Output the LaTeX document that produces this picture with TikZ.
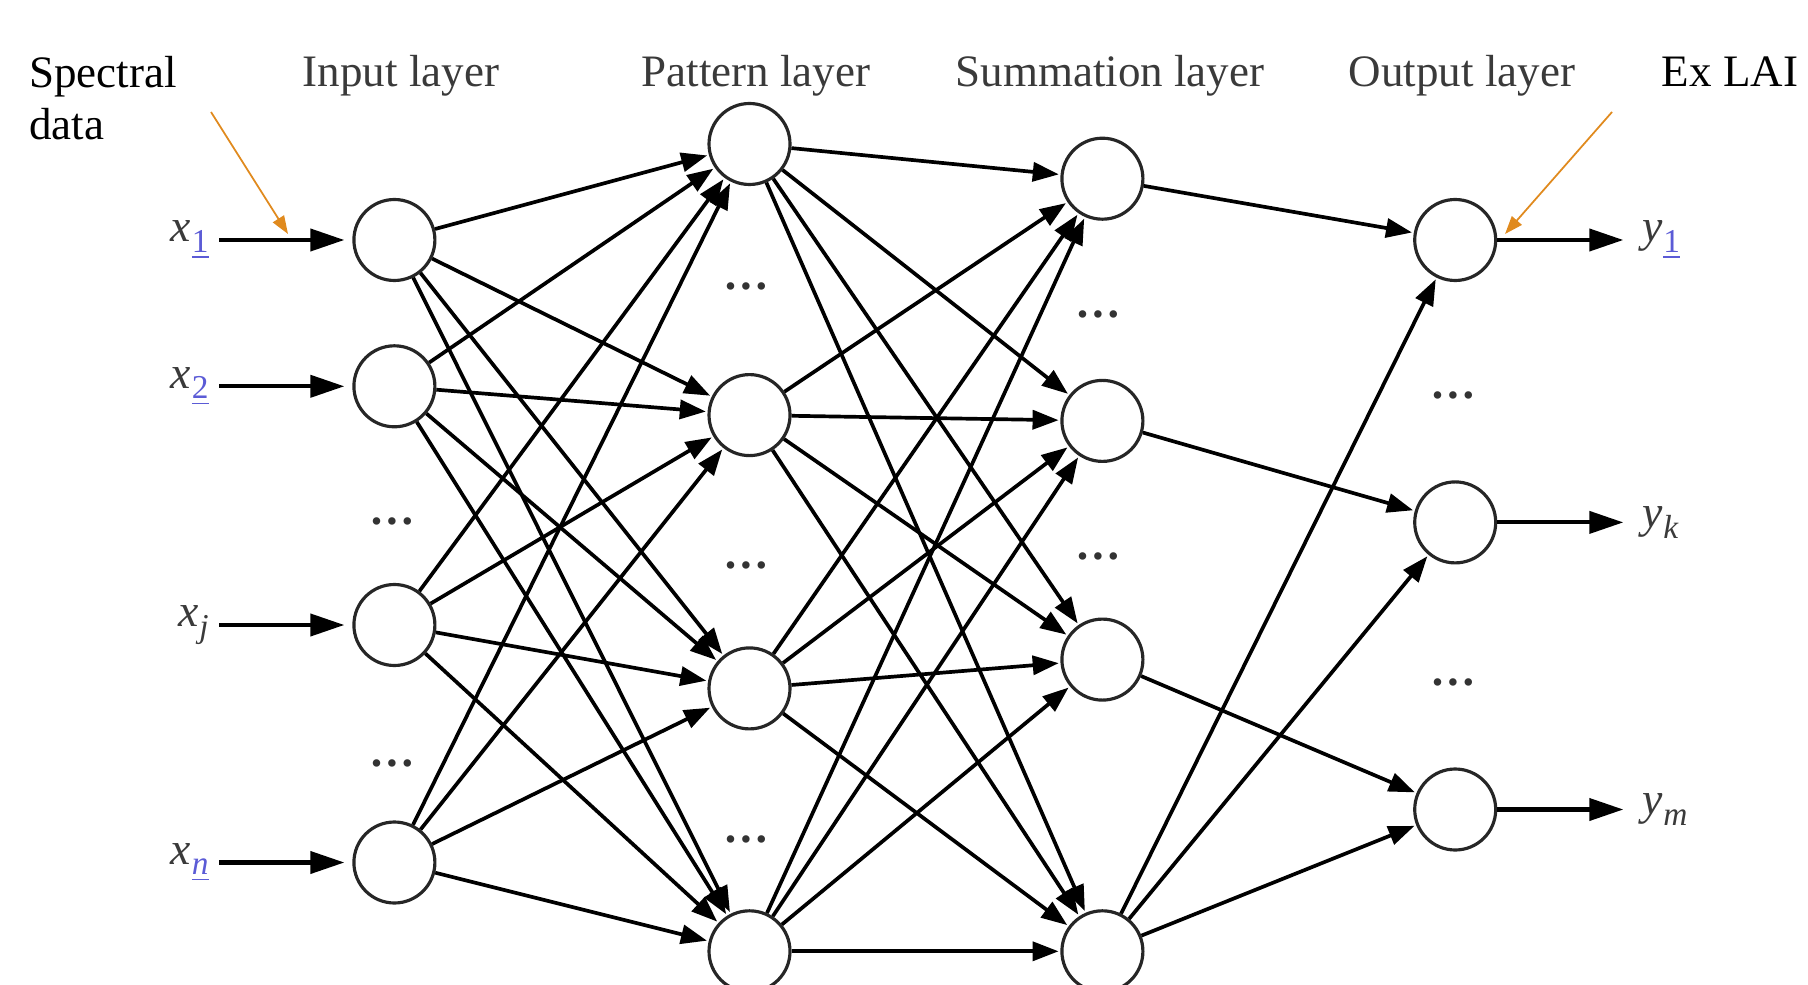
\documentclass[tikz,border=0pt]{standalone}
\usepackage{fontspec}
\IfFontExistsTF{LiberationSerif-Regular.ttf}
  {\setmainfont{LiberationSerif}[Extension=.ttf, UprightFont=*-Regular, ItalicFont=*-Italic, BoldFont=*-Bold, BoldItalicFont=*-BoldItalic]}
  {\setmainfont{Liberation Serif}}
\usepackage{tikz}
\usetikzlibrary{arrows.meta,positioning}

\definecolor{linkblue}{HTML}{5B5BD6}
\definecolor{annorange}{HTML}{E08A1E}
\definecolor{labgray}{HTML}{3A3A3A}

\newcommand{\varlab}[2]{\textit{#1}\kern0.3pt\raisebox{-0.5ex}{\fontsize{9.5}{10}\selectfont #2}}
\newcommand{\linksub}[1]{\textcolor{linkblue}{\underline{#1}}}

\begin{document}
\begin{tikzpicture}[
roundnode/.style={circle, draw=black!85, line width=0.9pt, fill=white, minimum size=8.1mm, inner sep=0pt},
link/.style={-{Triangle[length=2.6mm,width=1.9mm]}, line width=1.05pt, shorten >=0.5pt},
iolink/.style={-{Triangle[length=3.4mm,width=2.2mm]}, line width=1.15pt, shorten >=0.8mm},
headlabel/.style={font=\fontsize{12.8}{15}\selectfont, text=labgray, anchor=base},
notelabel/.style={font=\fontsize{12.8}{15}\selectfont, align=left},
varlabel/.style={font=\fontsize{13}{15}\selectfont, text=labgray, inner sep=1mm},
dotslabel/.style={font=\fontsize{13}{15}\selectfont\bfseries, text=black!80},
note/.style={-{Triangle[length=1.8mm,width=1.3mm]}, draw=annorange, fill=annorange, line width=0.5pt},
]
\clip (0,0) rectangle (18.08,9.84);

%Nodes
\node[roundnode]      (i1)      at (3.944,7.44) {};
\node[roundnode]      (i2)      at (3.944,5.977) {};
\node[roundnode]      (i3)      at (3.944,3.59) {};
\node[roundnode]      (i4)      at (3.944,1.215) {};

\node[roundnode]      (p1)      at (7.495,8.40) {};
\node[roundnode]      (p2)      at (7.495,5.689) {};
\node[roundnode]      (p3)      at (7.495,2.956) {};
\node[roundnode]      (p4)      at (7.495,0.327) {};

\node[roundnode]      (s1)      at (11.024,8.053) {};
\node[roundnode]      (s2)      at (11.024,5.631) {};
\node[roundnode]      (s3)      at (11.024,3.244) {};
\node[roundnode]      (s4)      at (11.024,0.327) {};

\node[roundnode]      (o1)      at (14.552,7.44) {};
\node[roundnode]      (o2)      at (14.552,4.616) {};
\node[roundnode]      (o3)      at (14.552,1.745) {};

%Inputs and outputs
\node[varlabel]       (x1)      [left=1.33cm of i1] {\varlab{x}{\linksub{1}}};
\node[varlabel]       (x2)      [left=1.33cm of i2] {\varlab{x}{\linksub{2}}};
\node[varlabel]       (xj)      [left=1.33cm of i3] {\varlab{x}{\textit{j}}};
\node[varlabel]       (xn)      [left=1.33cm of i4] {\varlab{x}{\linksub{\textit{n}}}};

\node[varlabel]       (y1)      [right=1.34cm of o1] {\varlab{y}{\linksub{1}}};
\node[varlabel]       (yk)      [right=1.34cm of o2] {\varlab{y}{\textit{k}}};
\node[varlabel]       (ym)      [right=1.34cm of o3] {\varlab{y}{\textit{m}}};

%Dots
\node[dotslabel]      (di1)     at (3.92,4.63) {\dots};
\node[dotslabel]      (di2)     at (3.92,2.21) {\dots};
\node[dotslabel]      (dp1)     at (7.46,6.98) {\dots};
\node[dotslabel]      (dp2)     at (7.46,4.19) {\dots};
\node[dotslabel]      (dp3)     at (7.46,1.445) {\dots};
\node[dotslabel]      (ds1)     at (10.98,6.70) {\dots};
\node[dotslabel]      (ds2)     at (10.98,4.28) {\dots};
\node[dotslabel]      (do1)     at (14.53,5.885) {\dots};
\node[dotslabel]      (do2)     at (14.53,3.014) {\dots};

%Headers
\node[headlabel]      (hin)     at (4.01,8.975) {Input layer};
\node[headlabel]      (hpat)    at (7.56,8.975) {Pattern layer};
\node[headlabel]      (hsum)    at (11.10,8.975) {Summation layer};
\node[headlabel]      (hout)    at (14.62,8.975) {Output layer};
\node[notelabel, anchor=north west] (spec) at (0.17,9.405) {Spectral\\data};
\node[notelabel, anchor=base] (exlai) at (17.30,8.975) {Ex LAI};

\coordinate (specfrom) at (2.11,8.72);
\coordinate (specto)   at (2.88,7.50);
\coordinate (laifrom)  at (16.12,8.72);
\coordinate (laito)    at (15.05,7.50);

%Lines
\draw[iolink] (x1) -- (i1);
\draw[iolink] (x2) -- (i2);
\draw[iolink] (xj) -- (i3);
\draw[iolink] (xn) -- (i4);

\foreach \a in {1,...,4}
  \foreach \b in {1,...,4}
    \draw[link] (i\a) -- (p\b);

\foreach \a in {1,...,4}
  \foreach \b in {1,...,4}
    \draw[link] (p\a) -- (s\b);

\draw[link] (s1) -- (o1);
\draw[link] (s2) -- (o2);
\draw[link] (s3) -- (o3);
\draw[link] (s4) -- (o1);
\draw[link] (s4) -- (o2);
\draw[link] (s4) -- (o3);

\draw[iolink] (o1) -- (y1);
\draw[iolink] (o2) -- (yk);
\draw[iolink] (o3) -- (ym);

\draw[note] (specfrom) -- (specto);
\draw[note] (laifrom) -- (laito);
\end{tikzpicture}
\end{document}
